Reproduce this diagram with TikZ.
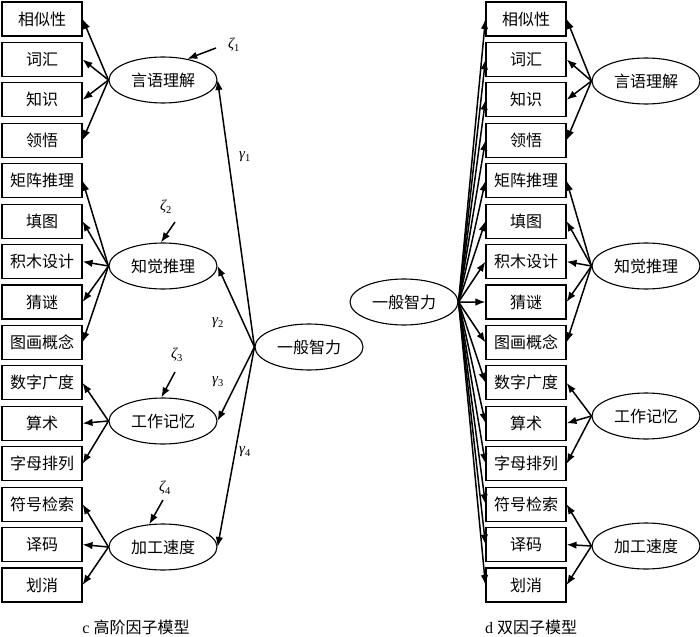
\documentclass[tikz,border=0pt]{standalone}
\usepackage{fontspec}
\setmainfont{Liberation Serif}
\newfontfamily\cjk{Noto Sans CJK SC}
\usetikzlibrary{arrows.meta,shapes.geometric,positioning}
\tikzset{
  >=Latex,
  item/.style={rectangle,draw,line width=1.1pt,minimum width=80pt,minimum height=34pt,inner sep=0pt,font=\cjk\fontsize{16}{18}\selectfont},
  factor/.style={ellipse,draw,line width=1.1pt,minimum width=108pt,minimum height=46pt,inner sep=0pt,font=\cjk\fontsize{16}{18}\selectfont},
  load/.style={-{Latex[length=10pt,width=7.5pt]}, line width=1.5pt},
  coef/.style={font=\fontsize{15}{17}\selectfont\itshape},
  caption/.style={font=\fontsize{16}{18}\selectfont}
}
\newcommand{\coefsub}[2]{#1\textsubscript{\upshape #2}}

\begin{document}
\begin{tikzpicture}[x=1pt, y=-1pt]
\useasboundingbox (0,0) rectangle (700,636);

% --- c: higher-order model ---
\foreach \t [count=\i] in {相似性,词汇,知识,领悟,矩阵推理,填图,积木设计,猜谜,图画概念,数字广度,算术,字母排列,符号检索,译码,划消} {
    \node[item] (L\i) at (42, {19+40.43*(\i-1)}) {\t};
    \node[item] (R\i) at (526, {19+40.43*(\i-1)}) {\t};
}

\node[factor] (V1) at (163, 80) {言语理解};
\node[factor] (V2) at (163, 266) {知觉推理};
\node[factor] (V3) at (163, 421) {工作记忆};
\node[factor] (V4) at (163, 547) {加工速度};
\node[factor] (G1) at (309, 347) {一般智力};

\foreach \f/\a/\b in {1/1/4, 2/5/9, 3/10/12, 4/13/15} {
    \foreach \j in {\a,...,\b} { \draw[load] (V\f.west) -- (L\j.east); }
    \draw[load] (G1.west) -- (V\f.east);
}

% residuals
\node[coef] (z1) at (234, 45) {\coefsub{ζ}{1}};
\node[coef] (z2) at (166, 207) {\coefsub{ζ}{2}};
\node[coef] (z3) at (177, 355) {\coefsub{ζ}{3}};
\node[coef] (z4) at (165, 488) {\coefsub{ζ}{4}};
\coordinate (e1) at (216, 48);
\coordinate (e2) at (175, 222);
\coordinate (e3) at (175, 372);
\coordinate (e4) at (163, 500);
\draw[load] (e1) -- (V1.41);
\draw[load] (e2) -- (V2.95);
\draw[load] (e3) -- (V3.94);
\draw[load] (e4) -- (V4.121);

\node[coef] (g1) at (245, 157) {\coefsub{γ}{1}};
\node[coef] (g2) at (218, 323) {\coefsub{γ}{2}};
\node[coef] (g3) at (218, 382) {\coefsub{γ}{3}};
\node[coef] (g4) at (245, 452) {\coefsub{γ}{4}};

\node[caption] (capc) at (136, 627) {c {\cjk 高阶因子模型}};

% --- d: bifactor model ---
\node[factor] (W1) at (646, 81) {言语理解};
\node[factor] (W2) at (646, 266) {知觉推理};
\node[factor] (W3) at (646, 416) {工作记忆};
\node[factor] (W4) at (646, 546) {加工速度};
\node[factor] (G2) at (404, 302) {一般智力};

\foreach \f/\a/\b in {1/1/4, 2/5/9, 3/10/12, 4/13/15} {
    \foreach \j in {\a,...,\b} { \draw[load] (W\f.west) -- (R\j.east); }
}
\foreach \j in {1,...,15} { \draw[load] (G2.east) -- (R\j.west); }

\node[caption] (capd) at (531, 627) {d {\cjk 双因子模型}};

\end{tikzpicture}
\end{document}
